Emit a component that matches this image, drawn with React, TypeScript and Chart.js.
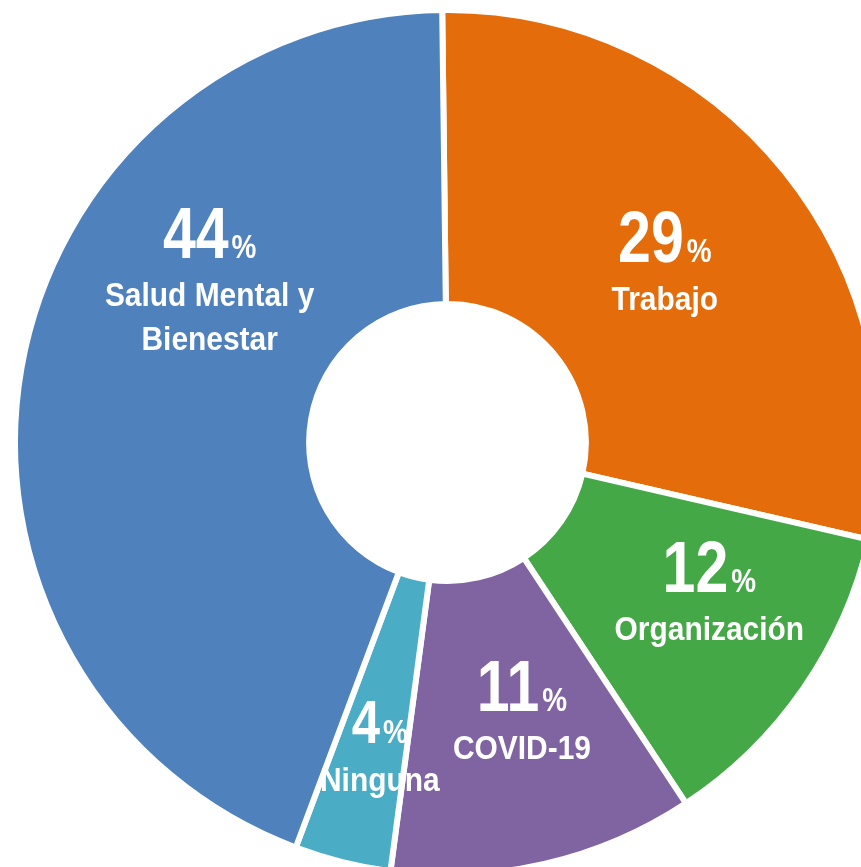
import { useEffect, useRef } from "react";
import { Chart, registerables } from "chart.js";

Chart.register(...registerables);

// ---- data ----
const categories = ["Trabajo", "Organización", "COVID-19", "Ninguna", "Salud Mental y\nBienestar"];
const shares = [28.8, 12.1, 11.4, 3.6, 44.1];
const sliceColors = ["#E46C0A", "#45A847", "#8064A2", "#4BACC6", "#4F81BD"];

// ---- label placement (relative to each slice: angle shift from slice middle, distance as fraction of radius) ----
const labelAngleShift = [-0.84, -5.06, -2.56, -1.36, 27.88];
const labelRadius = [0.653, 0.697, 0.644, 0.712, 0.696];
const numberFontSize = [72, 72, 72, 62, 72];

const labelPlugin = {
  id: "sliceLabels",
  afterDatasetsDraw(chart: any) {
    const ctx: CanvasRenderingContext2D = chart.ctx;
    const meta = chart.getDatasetMeta(0);
    ctx.save();
    ctx.font = "bold 100px 'Liberation Sans Narrow', monospace";
    const w1 = ctx.measureText("abcdefghij").width;
    ctx.font = "bold 100px monospace";
    const w2 = ctx.measureText("abcdefghij").width;
    ctx.restore();
    const hasNarrow = Math.abs(w1 - w2) > 0.5;
    const numFamily = hasNarrow ? "'Liberation Sans Narrow', 'Arial Narrow', sans-serif" : "'Liberation Sans', Arial, sans-serif";
    const numSx = hasNarrow ? 1 : 0.82;
    const nameFamily = "'Liberation Sans', Arial, sans-serif";
    const nameSx = 0.88;

    const drawText = (text: string, x: number, y: number, size: number, family: string, sx: number, align: CanvasTextAlign) => {
      ctx.save();
      ctx.font = `bold ${size}px ${family}`;
      ctx.textAlign = align;
      ctx.textBaseline = "alphabetic";
      ctx.fillStyle = "#ffffff";
      ctx.translate(x, y);
      ctx.scale(sx, 1);
      ctx.fillText(text, 0, 0);
      ctx.restore();
    };
    const width = (text: string, size: number, family: string, sx: number) => {
      ctx.save();
      ctx.font = `bold ${size}px ${family}`;
      const w = ctx.measureText(text).width * sx;
      ctx.restore();
      return w;
    };

    meta.data.forEach((arc: any, i: number) => {
      const p = arc.getProps(["x", "y", "startAngle", "endAngle", "outerRadius"], true);
      const a = (p.startAngle + p.endAngle) / 2 + (labelAngleShift[i] * Math.PI) / 180;
      const r = p.outerRadius * labelRadius[i];
      const cx = p.x + Math.cos(a) * r;
      const cy = p.y + Math.sin(a) * r;

      const num = String(Math.round(shares[i]));
      const nSize = numberFontSize[i];
      const pSize = 34;
      const gap = 3;
      const wn = width(num, nSize, numFamily, numSx);
      const wp = width("%", pSize, numFamily, numSx);
      const left = cx - (wn + gap + wp) / 2;
      drawText(num, left, cy, nSize, numFamily, numSx, "left");
      drawText("%", left + wn + gap, cy, pSize, numFamily, numSx, "left");

      const lines = categories[i].split("\n");
      lines.forEach((line, k) => {
        drawText(line, cx, cy + 48 + k * 44, 34, nameFamily, nameSx, "center");
      });
    });
  },
};

export default function App() {
  const ref = useRef<HTMLCanvasElement | null>(null);

  useEffect(() => {
    if (!ref.current) return;
    const chart = new Chart(ref.current, {
      type: "doughnut",
      data: {
        labels: categories,
        datasets: [
          {
            data: shares,
            backgroundColor: sliceColors,
            hoverBackgroundColor: sliceColors,
            borderColor: "#ffffff",
            hoverBorderColor: "#ffffff",
            borderWidth: 6,
            hoverBorderWidth: 6,
          },
        ],
      },
      options: {
        responsive: false,
        animation: false,
        events: [],
        rotation: -0.7,
        cutout: "32%",
        layout: { padding: 0 },
        plugins: {
          legend: { display: false },
          tooltip: { enabled: false },
        },
      },
      plugins: [labelPlugin],
    });
    return () => chart.destroy();
  }, []);

  return (
    <div
      style={{
        position: "fixed",
        left: 0,
        top: 0,
        width: 861,
        height: 867,
        overflow: "hidden",
        background: "#ffffff",
      }}
    >
      <canvas ref={ref} width={871} height={871} style={{ position: "absolute", left: 12, top: 7 }} />
    </div>
  );
}
